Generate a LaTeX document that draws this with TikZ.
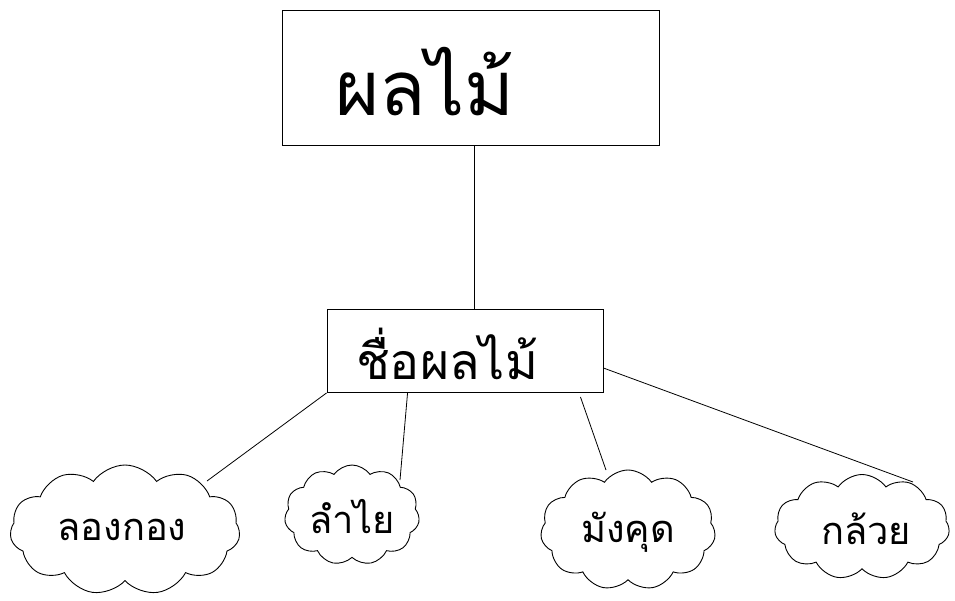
\documentclass[tikz,border=0pt]{standalone}
\usepackage{fontspec}
\newfontfamily\thaifont[Script=Thai]{Loma}
\usetikzlibrary{shapes.symbols,calc}
\begin{document}
\begin{tikzpicture}[x=1pt,y=-1pt,
  box/.style={draw, line width=0.9pt, inner sep=0pt},
  puff/.style={draw, cloud, cloud puffs=11, cloud puff arc=110, aspect=1.6, line width=0.9pt, inner sep=0pt},
  link/.style={line width=0.8pt},
  lbl/.style={font=\thaifont, inner sep=0pt},
  cl/.style={lbl, font=\thaifont\fontsize{38}{42}\selectfont}]
\useasboundingbox (0,0) rectangle (955,600);
\node[box, minimum width=377pt, minimum height=135pt] (top) at (471,78) {};
\node[lbl, font=\thaifont\fontsize{76}{84}\selectfont] (toptxt) at (425,82) {ผลไม้};
\node[box, minimum width=276pt, minimum height=83pt] (mid) at (465,351) {};
\node[lbl, font=\thaifont\fontsize{50}{56}\selectfont] (midtxt) at (447,354) {ชื่อผลไม้};
\node[puff, minimum width=230pt, minimum height=130pt] (c1) at (125,530) {};
\node[puff, minimum width=135pt, minimum height=100pt] (c2) at (352,515) {};
\node[puff, minimum width=175pt, minimum height=120pt] (c3) at (628,530) {};
\node[puff, minimum width=175pt, minimum height=105pt] (c4) at (862,527) {};
\node[cl] (t1) at (122,530) {ลองกอง};
\node[cl] (t2) at (352,517) {ลำไย};
\node[cl] (t3) at (628,532) {มังคุด};
\node[cl] (t4) at (866,529) {กล้วย};
\coordinate (e1) at (207,481);
\coordinate (e2) at (400,480);
\coordinate (e3) at (606,470);
\coordinate (e4) at (913,482);
\draw[link] (top.south) ++(3,0) coordinate (a0) -- (a0 |- mid.north);
\draw[link] (mid.south west) -- (e1);
\draw[link] ($(mid.south west)+(81,0)$) -- (e2);
\draw[link] ($(mid.south east)+(-23,4)$) -- (e3);
\draw[link] ($(mid.east)+(0,17)$) -- (e4);
\end{tikzpicture}
\end{document}
